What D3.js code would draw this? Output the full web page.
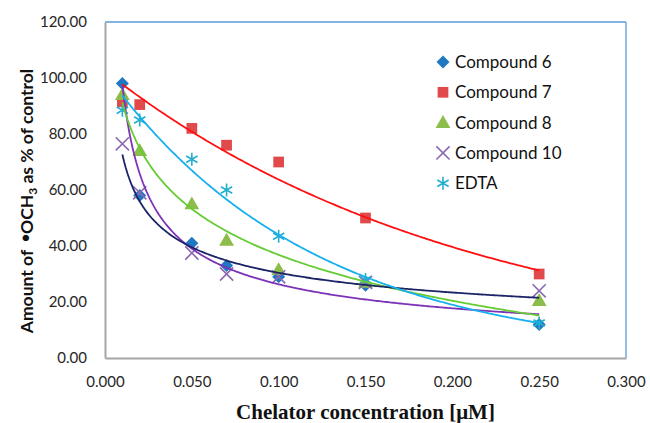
<!DOCTYPE html>
<html>
<head>
<meta charset="utf-8">
<script src="https://cdn.jsdelivr.net/npm/d3@7"></script>
<style>
  body { margin: 0; background: #fff; }
  svg { display: block; }
  .tick-label { font-family: Lato, "Liberation Sans", sans-serif; font-size: 15px; fill: #262626; }
  .legend-text { font-family: Lato, "Liberation Sans", sans-serif; font-size: 17px; fill: #111; }
</style>
</head>
<body>
<svg id="chart"></svg>
<script>
const width = 650;
const height = 423;

// concentrations (µM)
const concentrations = [0.01, 0.02, 0.05, 0.07, 0.1, 0.15, 0.25];

// values as % of control
const compound6 = [98, 58, 41, 33, 29, 26, 12];
const compound7 = [91.5, 90.5, 82, 76, 70, 50, 30];
const compound8 = [94, 74, 55, 42, 31.5, 27, 20.5];
const compound10 = [76.5, 59, 37.5, 30, 29, 27, 24];
const edta = [88.5, 85, 71, 60, 43.5, 28, 12.5];

const xTicks = [0, 0.05, 0.1, 0.15, 0.2, 0.25, 0.3];
const yTicks = [0, 20, 40, 60, 80, 100, 120];

const seriesNames = ["Compound 6", "Compound 7", "Compound 8", "Compound 10", "EDTA"];
const seriesValues = [compound6, compound7, compound8, compound10, edta];
const markerColors = ["#1f78c1", "#e04a4a", "#8cbd4a", "#8c68b0", "#22aed0"];
const markerShapes = ["diamond", "square", "triangle", "x", "asterisk"];
// Excel-style trendlines: type and colour of each
const trendTypes = ["power", "exp", "log", "power", "exp"];
const trendColors = ["#7d33b8", "#ff1010", "#66cc33", "#1c2468", "#16b0ee"];

const margin = { top: 22, right: 24, bottom: 65, left: 105 };

const svg = d3.select("#chart").attr("width", width).attr("height", height);

const x = d3.scaleLinear().domain([0, 0.3]).range([margin.left, width - margin.right]);
const y = d3.scaleLinear().domain([0, 120]).range([height - margin.bottom, margin.top]);

// plot area frame: grey left/bottom, blue top/right
svg.append("line")
  .attr("x1", x(0)).attr("x2", x(0.3)).attr("y1", y(120)).attr("y2", y(120))
  .attr("stroke", "#5b9bd5").attr("stroke-width", 1.3);
svg.append("line")
  .attr("x1", x(0.3)).attr("x2", x(0.3)).attr("y1", y(120)).attr("y2", y(0))
  .attr("stroke", "#5b9bd5").attr("stroke-width", 1.3);

const xAxis = svg.append("g")
  .attr("transform", `translate(0,${y(0)})`)
  .call(d3.axisBottom(x).tickValues(xTicks).tickSize(0).tickPadding(18).tickFormat(d3.format(".3f")));
xAxis.select(".domain").attr("stroke", "#a6a6a6").attr("stroke-width", 2);
xAxis.selectAll("text").attr("class", "tick-label");

const yAxis = svg.append("g")
  .attr("transform", `translate(${x(0)},0)`)
  .call(d3.axisLeft(y).tickValues(yTicks).tickSize(0).tickPadding(18).tickFormat(d3.format(".2f")));
yAxis.select(".domain").attr("stroke", "#a6a6a6").attr("stroke-width", 2);
yAxis.selectAll("text").attr("class", "tick-label");

// least squares fit on transformed data
function fit(type, xs, ys) {
  const tx = xs.map((v) => (type === "power" || type === "log" ? Math.log(v) : v));
  const ty = ys.map((v) => (type === "power" || type === "exp" ? Math.log(v) : v));
  const mx = d3.mean(tx), my = d3.mean(ty);
  const b = d3.sum(tx, (v, i) => (v - mx) * (ty[i] - my)) / d3.sum(tx, (v) => (v - mx) ** 2);
  const a = my - b * mx;
  if (type === "power") return (v) => Math.exp(a) * Math.pow(v, b);
  if (type === "exp") return (v) => Math.exp(a + b * v);
  return (v) => a + b * Math.log(v);
}

function symbolPath(shape, size) {
  if (shape === "diamond") return d3.symbol(d3.symbolSquare, size)();
  if (shape === "square") return d3.symbol(d3.symbolSquare, size)();
  if (shape === "triangle") return d3.symbol(d3.symbolTriangle, size)();
  if (shape === "x") return d3.symbol(d3.symbolX, size)();
  return d3.symbol(d3.symbolAsterisk, size)();
}
const symbolSize = { diamond: 85, square: 115, triangle: 95, x: 115, asterisk: 120 };

function drawMarker(g, shape, color, cx, cy) {
  const p = g.append("path")
    .attr("d", symbolPath(shape, symbolSize[shape]))
    .attr("transform", `translate(${cx},${cy})` + (shape === "diamond" ? " rotate(45)" : "") + (shape === "triangle" ? " translate(0,1)" : ""));
  if (shape === "x" || shape === "asterisk") {
    p.attr("fill", "none").attr("stroke", color).attr("stroke-width", 1.6);
  } else {
    p.attr("fill", color);
  }
}

const markersG = svg.append("g");
seriesValues.forEach((vals, s) => {
  vals.forEach((v, i) => {
    drawMarker(markersG, markerShapes[s], markerColors[s], x(concentrations[i]), y(v));
  });
});

const line = d3.line().x((d) => x(d[0])).y((d) => y(d[1])).curve(d3.curveLinear);
const xFine = d3.range(0, 241).map((i) => 0.01 + i * 0.001);
seriesValues.forEach((vals, s) => {
  const f = fit(trendTypes[s], concentrations, vals);
  svg.append("path")
    .datum(xFine.map((v) => [v, f(v)]))
    .attr("d", line)
    .attr("fill", "none")
    .attr("stroke", trendColors[s])
    .attr("stroke-width", 1.8);
});

// legend
const legend = svg.append("g");
seriesNames.forEach((name, i) => {
  const ly = 62 + i * 30.3;
  drawMarker(legend, markerShapes[i], markerColors[i], 443, ly);
  legend.append("text")
    .attr("class", "legend-text")
    .attr("x", 455)
    .attr("y", ly)
    .attr("dy", "0.36em")
    .text(name);
});

// axis titles
svg.append("text")
  .attr("transform", `translate(27,${(y(0) + y(120)) / 2 + 11}) rotate(-90)`)
  .attr("text-anchor", "middle")
  .attr("dy", "0.35em")
  .style("font-family", "Lato, 'Liberation Sans', sans-serif")
  .style("font-weight", "bold")
  .style("font-size", "17.5px")
  .style("fill", "#111")
  .html("Amount of &#160;<tspan font-family='Liberation Sans' font-size='22px'>•</tspan>OCH<tspan dy='4' font-size='12px'>3</tspan><tspan dy='-4'> as % of control</tspan>");

svg.append("text")
  .attr("x", (x(0) + x(0.3)) / 2)
  .attr("y", 419)
  .attr("text-anchor", "middle")
  .style("font-family", "'Liberation Serif', 'Times New Roman', serif")
  .style("font-weight", "bold")
  .style("font-size", "21px")
  .style("fill", "#111")
  .text("Chelator concentration [μM]");
</script>
</body>
</html>
